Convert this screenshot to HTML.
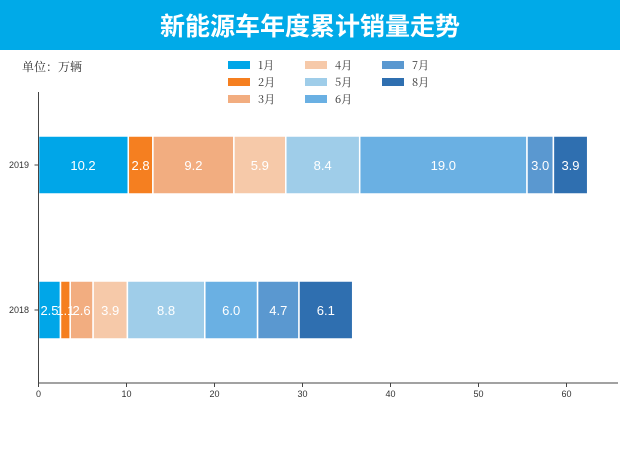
<!DOCTYPE html>
<html><head><meta charset="utf-8"><style>
body{margin:0;width:620px;height:465px;background:#fff;overflow:hidden;font-family:"Liberation Sans","Noto Sans CJK SC",sans-serif}
</style></head><body>
<svg width="620" height="465" xmlns="http://www.w3.org/2000/svg">
<rect x="0" y="0" width="620" height="50" fill="#00aae8"/>
<text x="310" y="35" text-anchor="middle" font-size="25" font-weight="bold" fill="#fff" font-family="Noto Sans CJK SC,sans-serif">新能源车年度累计销量走势</text>
<text x="22" y="71" font-size="12" fill="#333" font-family="Noto Serif CJK SC,serif">单位：万辆</text>
<g font-size="11" fill="#333" font-family="Noto Serif CJK SC,serif">
<rect x="228" y="61" width="22" height="8" fill="#00a6e8"/><text x="258" y="69">1月</text>
<rect x="228" y="78" width="22" height="8" fill="#f57f20"/><text x="258" y="86">2月</text>
<rect x="228" y="95" width="22" height="8" fill="#f2ad80"/><text x="258" y="103">3月</text>
<rect x="305" y="61" width="22" height="8" fill="#f6c9a9"/><text x="335" y="69">4月</text>
<rect x="305" y="78" width="22" height="8" fill="#9fcde9"/><text x="335" y="86">5月</text>
<rect x="305" y="95" width="22" height="8" fill="#6ab0e3"/><text x="335" y="103">6月</text>
<rect x="382" y="61" width="22" height="8" fill="#5a98d0"/><text x="412" y="69">7月</text>
<rect x="382" y="78" width="22" height="8" fill="#2f6fb0"/><text x="412" y="86">8月</text>
</g>
<g stroke="#fff" stroke-width="1.5">
<rect x="38.5" y="136" width="89.8" height="58" fill="#00a6e8"/>
<rect x="128.3" y="136" width="24.6" height="58" fill="#f57f20"/>
<rect x="152.9" y="136" width="81" height="58" fill="#f2ad80"/>
<rect x="233.9" y="136" width="51.9" height="58" fill="#f6c9a9"/>
<rect x="285.8" y="136" width="73.9" height="58" fill="#9fcde9"/>
<rect x="359.7" y="136" width="167.3" height="58" fill="#6ab0e3"/>
<rect x="527" y="136" width="26.4" height="58" fill="#5a98d0"/>
<rect x="553.4" y="136" width="34.3" height="58" fill="#2f6fb0"/>
<rect x="38.5" y="281" width="22" height="58" fill="#00a6e8"/>
<rect x="60.5" y="281" width="9.7" height="58" fill="#f57f20"/>
<rect x="70.2" y="281" width="22.9" height="58" fill="#f2ad80"/>
<rect x="93.1" y="281" width="34.3" height="58" fill="#f6c9a9"/>
<rect x="127.4" y="281" width="77.4" height="58" fill="#9fcde9"/>
<rect x="204.8" y="281" width="52.8" height="58" fill="#6ab0e3"/>
<rect x="257.6" y="281" width="41.4" height="58" fill="#5a98d0"/>
<rect x="299" y="281" width="53.7" height="58" fill="#2f6fb0"/>
</g>
<g fill="#fff" font-size="13" text-anchor="middle">
<text x="83" y="170">10.2</text><text x="140.6" y="170">2.8</text><text x="193.4" y="170">9.2</text><text x="259.8" y="170">5.9</text><text x="322.7" y="170">8.4</text><text x="443.3" y="170">19.0</text><text x="540.2" y="170">3.0</text><text x="570.5" y="170">3.9</text>
<text x="49.5" y="315">2.5</text><text x="65.3" y="315">1.1</text><text x="81.6" y="315">2.6</text><text x="110.2" y="315">3.9</text><text x="166.1" y="315">8.8</text><text x="231.2" y="315">6.0</text><text x="278.3" y="315">4.7</text><text x="325.8" y="315">6.1</text>
</g>
<line x1="38.5" y1="92" x2="38.5" y2="383" stroke="#444" stroke-width="1"/>
<line x1="38.5" y1="383" x2="618" y2="383" stroke="#444" stroke-width="1"/>
<g stroke="#444"><line x1="34.5" y1="165" x2="38.5" y2="165"/><line x1="34.5" y1="310" x2="38.5" y2="310"/>
<line x1="38.5" y1="383" x2="38.5" y2="387"/><line x1="126.5" y1="383" x2="126.5" y2="387"/><line x1="214.5" y1="383" x2="214.5" y2="387"/><line x1="302.5" y1="383" x2="302.5" y2="387"/><line x1="390.5" y1="383" x2="390.5" y2="387"/><line x1="478.5" y1="383" x2="478.5" y2="387"/><line x1="566.5" y1="383" x2="566.5" y2="387"/></g>
<g font-size="9" fill="#333" text-anchor="middle">
<text x="38.5" y="397">0</text><text x="126.5" y="397">10</text><text x="214.5" y="397">20</text><text x="302.5" y="397">30</text><text x="390.5" y="397">40</text><text x="478.5" y="397">50</text><text x="566.5" y="397">60</text>
<text x="19" y="168">2019</text><text x="19" y="313">2018</text>
</g>
</svg>
</body></html>
